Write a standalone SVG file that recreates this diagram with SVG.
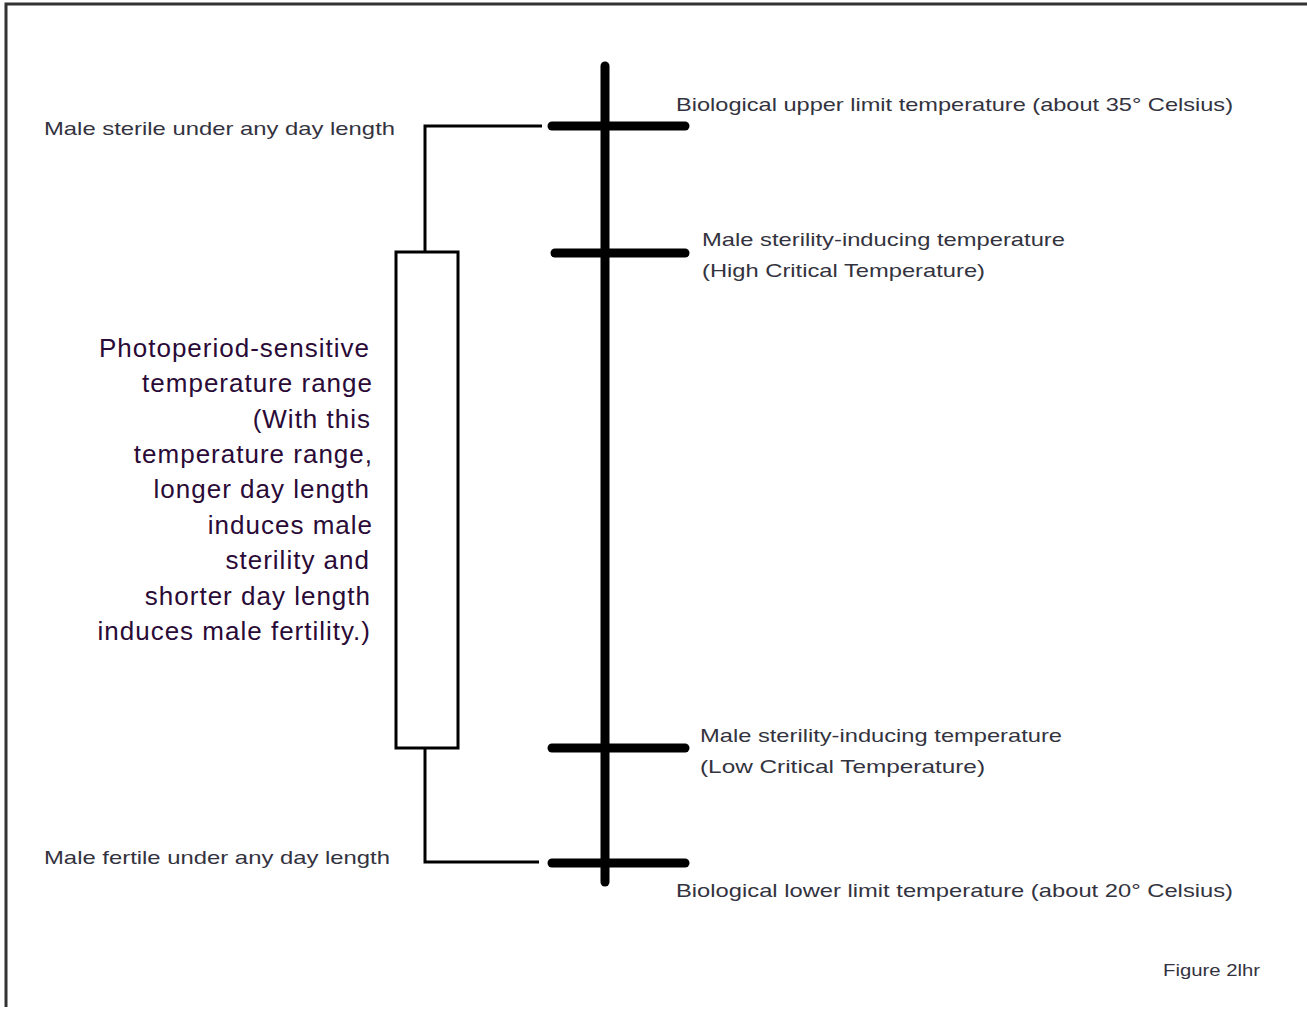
<svg xmlns="http://www.w3.org/2000/svg" width="1307" height="1009" viewBox="0 0 1307 1009">
<style>
.lbl{font-family:"Liberation Sans",Arial,sans-serif;font-size:19px;fill:#333340}
.big{font-family:"Liberation Sans",Arial,sans-serif;font-size:26px;fill:#2a0a36;text-anchor:end;letter-spacing:1px}
.tick{stroke:#000;stroke-width:9;stroke-linecap:round;fill:none}
.thin{stroke:#000;stroke-width:3;fill:none}
</style>
<rect width="1307" height="1009" fill="#fff"/>
<path d="M6,1007 V4 H1307" stroke="#333" stroke-width="3" fill="none"/>
<g id="axis">
<line class="tick" x1="605" y1="66" x2="605" y2="882" stroke-width="10"/>
</g>
<g id="connectors">
<polyline class="thin" points="542,126 425,126 425,251"/>
<polyline class="thin" points="425,748 425,862 539,862"/>
</g>
<g id="tick-upper">
<line class="tick" x1="552" y1="126" x2="685" y2="126"/>
<text class="lbl" x="676" y="111" textLength="557" lengthAdjust="spacingAndGlyphs">Biological upper limit temperature (about 35° Celsius)</text>
</g>
<g id="tick-high">
<line class="tick" x1="555" y1="253" x2="685" y2="253"/>
<text class="lbl" x="702" y="246" textLength="363" lengthAdjust="spacingAndGlyphs">Male sterility-inducing temperature</text>
<text class="lbl" x="702" y="277" textLength="283" lengthAdjust="spacingAndGlyphs">(High Critical Temperature)</text>
</g>
<g id="tick-low">
<line class="tick" x1="552" y1="748" x2="685" y2="748"/>
<text class="lbl" x="700" y="742" textLength="362" lengthAdjust="spacingAndGlyphs">Male sterility-inducing temperature</text>
<text class="lbl" x="700" y="773" textLength="285" lengthAdjust="spacingAndGlyphs">(Low Critical Temperature)</text>
</g>
<g id="tick-lower">
<line class="tick" x1="552" y1="863" x2="685" y2="863"/>
<text class="lbl" x="676" y="897" textLength="557" lengthAdjust="spacingAndGlyphs">Biological lower limit temperature (about 20° Celsius)</text>
</g>
<g id="sterile">
<text class="lbl" x="44" y="135" textLength="351" lengthAdjust="spacingAndGlyphs">Male sterile under any day length</text>
</g>
<g id="fertile">
<text class="lbl" x="44" y="864" textLength="346" lengthAdjust="spacingAndGlyphs">Male fertile under any day length</text>
</g>
<g id="range-box">
<rect class="thin" x="396" y="252" width="62" height="496"/>
</g>
<g id="range-text">
<text class="big" x="370" y="357">Photoperiod-sensitive</text>
<text class="big" x="373" y="392">temperature range</text>
<text class="big" x="371" y="428">(With this</text>
<text class="big" x="373" y="463">temperature range,</text>
<text class="big" x="370" y="498">longer day length</text>
<text class="big" x="373" y="534">induces male</text>
<text class="big" x="370" y="569">sterility and</text>
<text class="big" x="371" y="605">shorter day length</text>
<text class="big" x="371" y="640">induces male fertility.)</text>
</g>
<g id="caption">
<text class="lbl" x="1163" y="976" style="font-size:16px" textLength="97" lengthAdjust="spacingAndGlyphs">Figure 2lhr</text>
</g>
</svg>
